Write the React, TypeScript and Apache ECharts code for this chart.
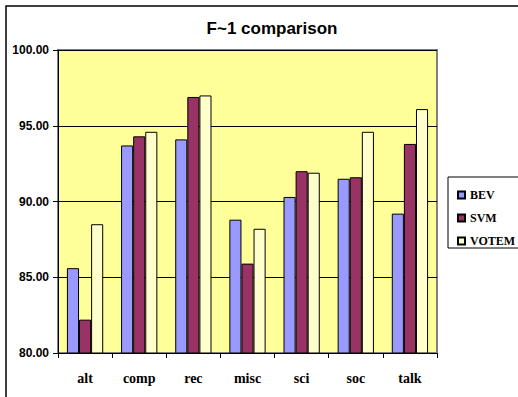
import React, { useEffect, useRef } from "react";
import * as echarts from "echarts";

const categories = ["alt", "comp", "rec", "misc", "sci", "soc", "talk"];
const bevValues = [85.6, 93.7, 94.1, 88.8, 90.3, 91.5, 89.2];
const svmValues = [82.2, 94.3, 96.9, 85.9, 92.0, 91.6, 93.8];
const votemValues = [88.5, 94.6, 97.0, 88.2, 91.9, 94.6, 96.1];
const yTicks = [80, 85, 90, 95, 100];

const SANS = "'Liberation Sans', Arial, sans-serif";
const SERIF = "'Liberation Serif', 'Times New Roman', serif";

export default function App() {
  const ref = useRef<HTMLDivElement>(null);

  useEffect(() => {
    if (!ref.current) return;
    const chart = echarts.init(ref.current, null, { renderer: "svg" });

    const barSeries = (name: string, data: number[], color: string) => ({
      name,
      type: "bar",
      data,
      barGap: "0%",
      barCategoryGap: "33%",
      itemStyle: { color, borderColor: "#000", borderWidth: 1 },
    });

    chart.setOption({
      animation: false,
      backgroundColor: "#fff",
      title: {
        text: "F~1 comparison",
        left: 267,
        top: 15,
        textAlign: "center",
        textStyle: { fontFamily: SANS, fontWeight: "bold", fontSize: 17, color: "#000" },
      },
      graphic: [
        {
          type: "rect",
          shape: { x: 6, y: 6, width: 600, height: 500 },
          style: { fill: "none", stroke: "#000", lineWidth: 1.5 },
          silent: true,
        },
        {
          type: "rect",
          shape: { x: 448, y: 177, width: 100, height: 71 },
          style: { fill: "#fff", stroke: "#000", lineWidth: 1 },
          silent: true,
          z: -1,
        },
      ],
      legend: {
        orient: "vertical",
        left: 452,
        top: 184,
        itemGap: 11,
        itemWidth: 7,
        itemHeight: 7,
        icon: "rect",
        textStyle: { fontFamily: SERIF, fontWeight: "bold", fontSize: 12, color: "#000" },
        data: ["BEV", "SVM", "VOTEM"],
      },
      grid: {
        left: 58,
        right: 81,
        top: 50,
        bottom: 44,
        show: true,
        backgroundColor: "#FFFF99",
        borderColor: "#808080",
        borderWidth: 2,
      },
      xAxis: {
        type: "category",
        data: categories,
        axisLine: { lineStyle: { color: "#000", width: 1 } },
        axisTick: { show: true, length: 5, lineStyle: { color: "#000" } },
        axisLabel: {
          margin: 18,
          fontFamily: SERIF,
          fontWeight: "bold",
          fontSize: 14,
          color: "#000",
        },
      },
      yAxis: {
        type: "value",
        min: yTicks[0],
        max: yTicks[yTicks.length - 1],
        interval: 5,
        axisLine: { show: true, lineStyle: { color: "#000", width: 1 } },
        axisTick: { show: true, length: 5, lineStyle: { color: "#000" } },
        splitLine: { show: true, lineStyle: { color: "#000", width: 1 } },
        axisLabel: {
          margin: 9,
          fontFamily: SANS,
          fontWeight: "bold",
          fontSize: 12,
          color: "#000",
          formatter: (v: number) => v.toFixed(2),
        },
      },
      series: [
        barSeries("BEV", bevValues, "#9999FF"),
        barSeries("SVM", svmValues, "#993366"),
        barSeries("VOTEM", votemValues, "#FFFFCC"),
      ],
    });

    return () => chart.dispose();
  }, []);

  return (
    <div
      ref={ref}
      style={{ position: "fixed", left: 0, top: 0, width: 518, height: 397 }}
    />
  );
}
